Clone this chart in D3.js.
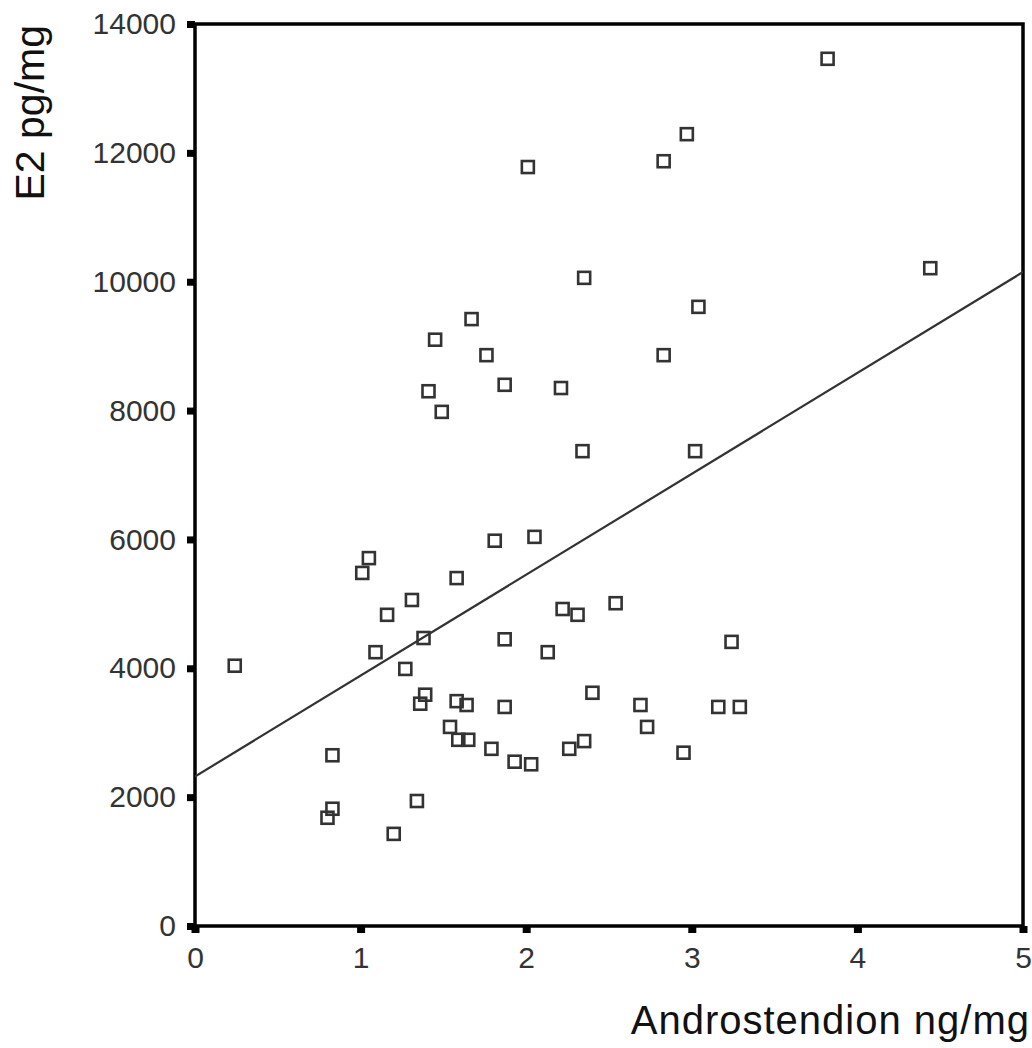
<!DOCTYPE html>
<html>
<head>
<meta charset="utf-8">
<script src="https://cdn.jsdelivr.net/npm/d3@7"></script>
<style>
  html, body { margin: 0; padding: 0; background: #fff; }
  svg { display: block; }
</style>
</head>
<body>
<script>
// Androstendion (ng/mg) for each sample
const androstendion = [
  3.82, 2.97, 2.83, 2.01, 4.44, 2.35, 3.04, 1.67, 1.45, 1.76,
  2.83, 1.41, 1.87, 2.21, 1.49, 2.34, 3.02, 1.81, 2.05, 1.05,
  1.01, 1.58, 1.31, 1.16, 2.22, 2.31, 2.54, 1.87, 1.38, 3.24,
  1.09, 2.13, 0.24, 1.27, 1.39, 1.36, 1.58, 1.64, 1.87, 2.40,
  2.69, 3.16, 3.29, 1.54, 2.73, 1.59, 1.65, 1.79, 1.93, 2.03,
  2.26, 2.35, 2.95, 0.83, 0.83, 0.80, 1.34, 1.20
];

// E2 (pg/mg) for the same samples
const e2 = [
  13460, 12290, 11870, 11780, 10210, 10060, 9610, 9420, 9100, 8860,
  8860, 8300, 8400, 8350, 7980, 7370, 7370, 5980, 6040, 5710,
  5480, 5400, 5060, 4830, 4920, 4830, 5010, 4450, 4470, 4410,
  4250, 4250, 4040, 3990, 3590, 3450, 3490, 3430, 3400, 3620,
  3430, 3400, 3400, 3090, 3090, 2890, 2890, 2750, 2550, 2510,
  2750, 2870, 2690, 2650, 1820, 1680, 1940, 1430
];

const xTicks = [0, 1, 2, 3, 4, 5];
const yTicks = [0, 2000, 4000, 6000, 8000, 10000, 12000, 14000];

// Linear regression line: E2 = fitIntercept + fitSlope * Androstendion
const fitIntercept = 2320;
const fitSlope = 1566;

const width = 1032, height = 1048;
const plot = { left: 195, top: 24, right: 1023, bottom: 926 };
const font = "'Liberation Sans', Arial, sans-serif";

const svg = d3.select("body").append("svg")
  .attr("width", width)
  .attr("height", height);

const x = d3.scaleLinear().domain([0, 5]).range([plot.left, plot.right]);
const y = d3.scaleLinear().domain([0, 14000]).range([plot.bottom, plot.top]);

// Y axis ticks and labels
const yAxis = svg.append("g")
  .attr("transform", `translate(${plot.left},0)`)
  .call(d3.axisLeft(y).tickValues(yTicks).tickFormat(d3.format("d"))
    .tickSize(8).tickPadding(11).tickSizeOuter(0));
yAxis.select(".domain").remove();
yAxis.selectAll(".tick line").attr("stroke", "#000").attr("stroke-width", 7);
yAxis.selectAll(".tick text")
  .attr("fill", "#333")
  .style("font-family", font)
  .style("font-size", "30px");

// X axis ticks and labels
const xAxis = svg.append("g")
  .attr("transform", `translate(0,${plot.bottom})`)
  .call(d3.axisBottom(x).tickValues(xTicks).tickFormat(d3.format("d"))
    .tickSize(7).tickPadding(14).tickSizeOuter(0));
xAxis.select(".domain").remove();
xAxis.selectAll(".tick line").attr("stroke", "#000").attr("stroke-width", 8);
xAxis.selectAll(".tick text")
  .attr("fill", "#333")
  .style("font-family", font)
  .style("font-size", "30px");

// Plot frame
svg.append("rect")
  .attr("x", plot.left)
  .attr("y", plot.top)
  .attr("width", plot.right - plot.left)
  .attr("height", plot.bottom - plot.top)
  .attr("fill", "none")
  .attr("stroke", "#000")
  .attr("stroke-width", 3.5);

// Clip for the regression line
svg.append("clipPath").attr("id", "plot-clip")
  .append("rect")
  .attr("x", plot.left)
  .attr("y", plot.top)
  .attr("width", plot.right - plot.left)
  .attr("height", plot.bottom - plot.top);

const fitLine = d3.line()
  .x(d => x(d))
  .y(d => y(fitIntercept + fitSlope * d));

svg.append("path")
  .datum(x.domain())
  .attr("clip-path", "url(#plot-clip)")
  .attr("d", fitLine)
  .attr("fill", "none")
  .attr("stroke", "#333")
  .attr("stroke-width", 2.2);

// Data points as open squares
const points = androstendion.map((a, i) => ({ a, e: e2[i] }));
const side = 12;
svg.append("g")
  .selectAll("rect")
  .data(points)
  .join("rect")
  .attr("x", d => x(d.a) - side / 2)
  .attr("y", d => y(d.e) - side / 2)
  .attr("width", side)
  .attr("height", side)
  .attr("fill", "none")
  .attr("stroke", "#333")
  .attr("stroke-width", 2.6);

// Axis titles
svg.append("text")
  .attr("transform", `translate(44,25) rotate(-90)`)
  .attr("text-anchor", "end")
  .attr("fill", "#111")
  .style("font-family", font)
  .style("font-size", "41px")
  .text("E2 pg/mg");

svg.append("text")
  .attr("x", 1030)
  .attr("y", 1034)
  .attr("text-anchor", "end")
  .attr("fill", "#111")
  .style("font-family", font)
  .style("font-size", "40px")
  .style("letter-spacing", "1px")
  .text("Androstendion ng/mg");
</script>
</body>
</html>
